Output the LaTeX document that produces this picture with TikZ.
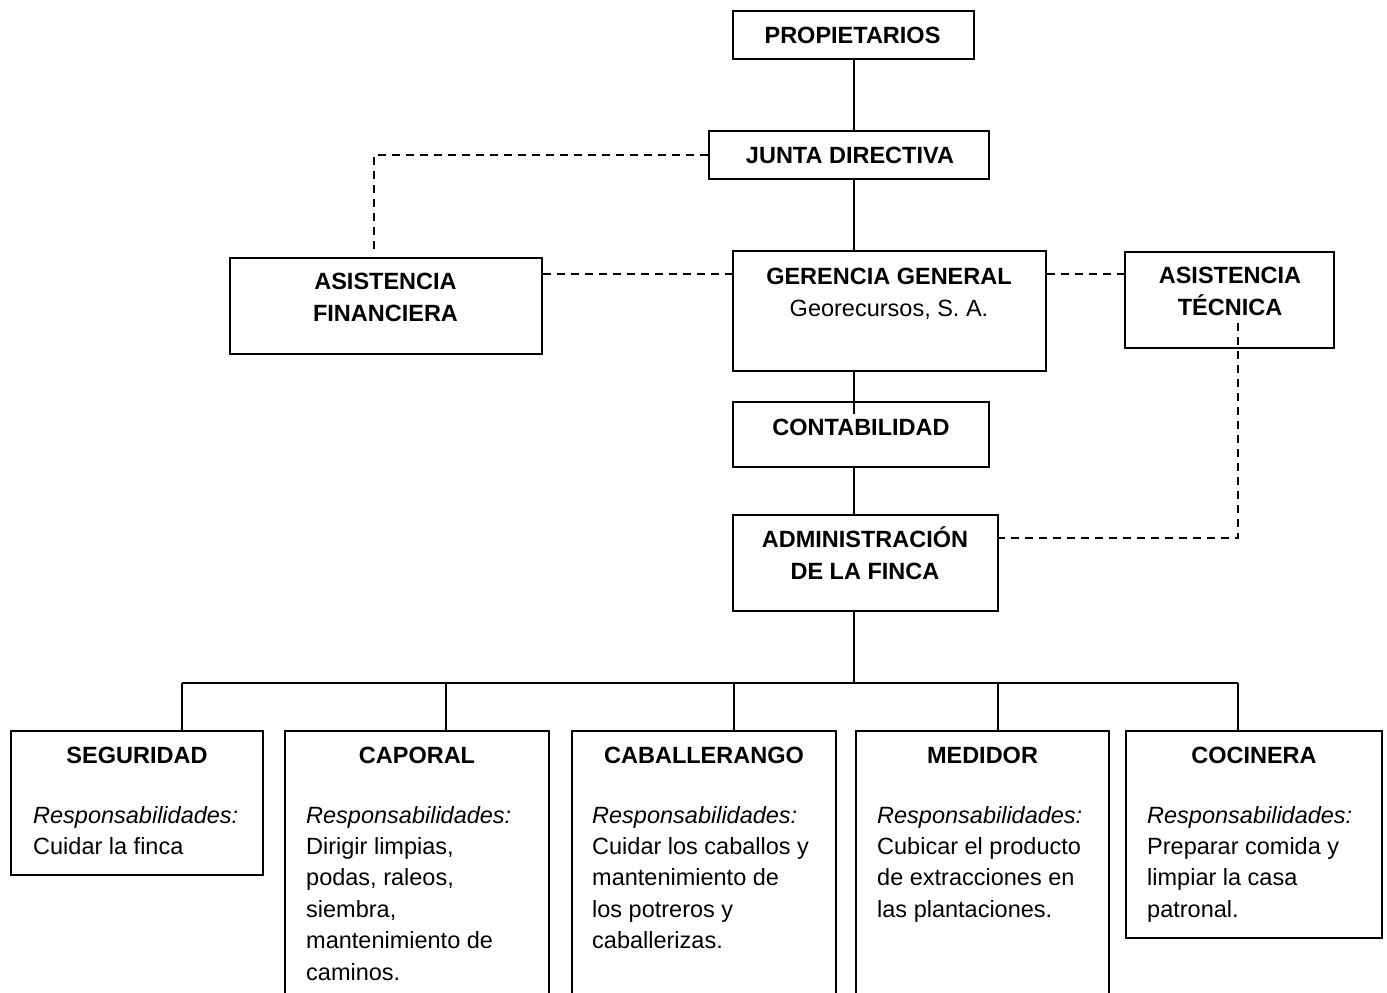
\documentclass[tikz,border=0pt]{standalone}
\usepackage{fontspec}
\setmainfont{Liberation Sans}
\tikzset{
  orgbox/.style={draw, line width=1.5pt, inner sep=0pt},
  titletext/.style={font=\bfseries\fontsize{23.5}{31.4}\selectfont, inner sep=0pt, anchor=base, align=center},
  bodytext/.style={font=\fontsize{23.5}{31.4}\selectfont, inner sep=0pt, anchor=base west, align=left},
  conn/.style={line width=1.5pt},
  dashconn/.style={line width=1.5pt, dash pattern=on 8pt off 6pt}
}
\begin{document}
\begin{tikzpicture}[x=1pt,y=-1pt]
\useasboundingbox (0,0) rectangle (1387,993);
\clip (0,0) rectangle (1387,993);
% boxes
\node[orgbox, minimum width=241pt, minimum height=48pt] (prop) at (853.5,35) {};
\node[orgbox, minimum width=280pt, minimum height=48pt] (junta) at (849,155) {};
\node[orgbox, minimum width=312pt, minimum height=96pt] (fin) at (386,306) {};
\node[orgbox, minimum width=313pt, minimum height=120pt] (ger) at (889.5,311) {};
\node[orgbox, minimum width=209pt, minimum height=96pt] (tec) at (1229.5,300) {};
\node[orgbox, minimum width=256pt, minimum height=65pt] (cont) at (861,434.5) {};
\node[orgbox, minimum width=265pt, minimum height=96pt] (adm) at (865.5,563) {};
\node[orgbox, minimum width=252pt, minimum height=144pt] (seg) at (137,803) {};
\node[orgbox, minimum width=264pt, minimum height=279pt] (cap) at (417,870.5) {};
\node[orgbox, minimum width=264pt, minimum height=279pt] (cab) at (704,870.5) {};
\node[orgbox, minimum width=253pt, minimum height=279pt] (med) at (982.5,870.5) {};
\node[orgbox, minimum width=256pt, minimum height=207pt] (coc) at (1254,834.5) {};
% texts (base anchor = baseline of the last line)
\node[titletext] (propt) at (852.5,43) {PROPIETARIOS};
\node[titletext] (juntat) at (850,163) {JUNTA DIRECTIVA};
\node[titletext] (fint) at (385.5,321) {ASISTENCIA\\FINANCIERA};
\node[titletext] (gert) at (889,316) {GERENCIA GENERAL\\\mdseries Georecursos, S. A.};
\node[titletext] (tect) at (1230,315) {ASISTENCIA\\TÉCNICA};
\node[titletext] (contt) at (861,435) {CONTABILIDAD};
\node[titletext] (admt) at (865,579) {ADMINISTRACIÓN\\DE LA FINCA};
\node[titletext] (segt) at (137,763) {SEGURIDAD};
\node[titletext] (capt) at (417,763) {CAPORAL};
\node[titletext] (cabt) at (704,763) {CABALLERANGO};
\node[titletext] (medt) at (982.5,763) {MEDIDOR};
\node[titletext] (coct) at (1254,763) {COCINERA};
\node[bodytext] (segb) at (33,854.4) {\textit{Responsabilidades:}\\Cuidar la finca};
\node[bodytext] (capb) at (306,980) {\textit{Responsabilidades:}\\Dirigir limpias,\\podas, raleos,\\siembra,\\mantenimiento de\\caminos.};
\node[bodytext] (cabb) at (592,948.6) {\textit{Responsabilidades:}\\Cuidar los caballos y\\mantenimiento de\\los potreros y\\caballerizas.};
\node[bodytext] (medb) at (877,917.2) {\textit{Responsabilidades:}\\Cubicar el producto\\de extracciones en\\las plantaciones.};
\node[bodytext] (cocb) at (1147,917.2) {\textit{Responsabilidades:}\\Preparar comida y\\limpiar la casa\\patronal.};
% coordinates
\coordinate (spine) at (854,0);
\coordinate (bus) at (854,683);
\coordinate (d1) at (182,683);
\coordinate (d2) at (446,683);
\coordinate (d3) at (734,683);
\coordinate (d4) at (998,683);
\coordinate (d5) at (1238,683);
\coordinate (ly) at (0,274);
\coordinate (ay) at (0,538);
\coordinate (fa) at (374,250);
\coordinate (tb) at (1238,323);
% solid connectors
\draw[conn] (prop.south -| spine) -- (junta.north -| spine);
\draw[conn] (junta.south -| spine) -- (ger.north -| spine);
\draw[conn] (ger.south -| spine) -- ([yshift=-13pt]cont.north -| spine);
\draw[conn] (cont.south -| spine) -- (adm.north -| spine);
\draw[conn] (adm.south -| spine) -- (bus);
\draw[conn] (d1) -- (d5);
\draw[conn] (d1) -- (d1 |- seg.north);
\draw[conn] (d2) -- (d2 |- cap.north);
\draw[conn] (d3) -- (d3 |- cab.north);
\draw[conn] (d4) -- (d4 |- med.north);
\draw[conn] (d5) -- (d5 |- coc.north);
% dashed connectors
\draw[dashconn] (junta.west) -| (fa);
\draw[dashconn] (fin.east |- ly) -- (ger.west |- ly);
\draw[dashconn] (ger.east |- ly) -- (tec.west |- ly);
\draw[dashconn] (tb) |- (adm.east |- ay);
\end{tikzpicture}
\end{document}
